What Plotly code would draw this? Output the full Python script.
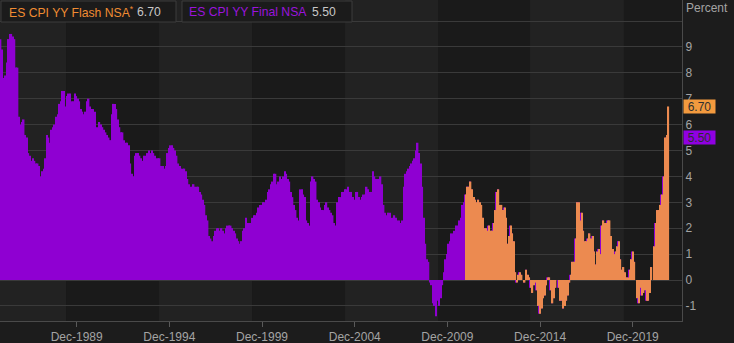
import pandas as pd
import plotly.graph_objects as go

# ---------------- data ----------------
# ES CPI YY Final NSA, monthly, Nov-1985 .. Dec-2010
final_1985_2010 = [
    9.3, 9.3, 8.9, 7.8, 7.9, 8.4, 9.3, 9.5, 9.5, 9.4,
    9.3, 8.2, 8.2, 6.3, 6.0, 6.1, 6.2, 5.6, 5.5, 4.9,
    4.8, 4.6, 4.7, 4.6, 4.5, 4.5, 4.4, 4.0, 4.2, 4.3,
    4.7, 5.6, 5.5, 5.3, 5.8, 5.9, 6.0, 6.3, 6.4, 6.8,
    6.9, 7.3, 7.3, 6.7, 7.1, 7.2, 7.2, 6.9, 6.9, 7.2,
    7.1, 7.0, 6.9, 6.6, 6.5, 6.4, 6.5, 6.9, 7.0, 6.7,
    6.6, 6.6, 6.5, 5.9, 5.9, 6.1, 6.0, 5.9, 5.8, 5.7,
    5.6, 5.5, 5.4, 6.4, 6.8, 6.8, 6.6, 6.2, 5.9, 5.7,
    5.7, 5.4, 5.3, 5.3, 5.2, 4.5, 4.1, 4.0, 4.8, 4.9,
    4.9, 4.8, 4.7, 4.6, 4.8, 4.8, 4.9, 5.0, 4.9, 5.0,
    4.9, 4.8, 4.7, 4.7, 4.7, 4.4, 4.4, 4.3, 4.4, 4.9,
    5.1, 5.2, 5.2, 5.1, 5.0, 4.8, 4.5, 4.4, 4.3, 4.3,
    4.3, 4.2, 3.9, 3.7, 3.6, 3.6, 3.7, 3.6, 3.6, 3.6,
    3.4, 3.3, 3.1, 2.9, 2.5, 2.3, 1.7, 1.6, 1.5, 1.7,
    1.9, 2.0, 2.0, 1.9, 2.0, 1.9, 1.8, 2.0, 2.1, 2.1,
    2.1, 2.0, 1.9, 1.8, 1.6, 1.5, 1.4, 1.5, 1.9, 2.0,
    2.4, 2.2, 2.2, 2.2, 2.4, 2.5, 2.5, 2.6, 2.8, 2.9,
    2.9, 3.0, 3.0, 3.1, 3.4, 3.5, 3.7, 3.8, 4.1, 4.1,
    3.7, 3.8, 4.0, 3.9, 4.0, 4.2, 4.1, 3.9, 3.8, 3.4,
    3.2, 2.9, 2.7, 2.4, 2.3, 3.5, 3.5, 3.3, 3.2, 2.3,
    2.2, 2.1, 3.8, 4.0, 3.9, 3.8, 3.1, 3.0, 2.8, 2.7,
    2.7, 2.9, 3.0, 2.8, 2.7, 2.6, 2.5, 2.2, 2.1, 3.0,
    3.2, 3.2, 3.4, 3.4, 3.5, 3.5, 3.6, 3.4, 3.4, 3.2,
    3.1, 3.4, 3.4, 3.2, 3.1, 3.2, 3.3, 3.3, 3.6, 3.5,
    3.4, 3.4, 4.2, 4.0, 3.9, 3.9, 3.9, 4.0, 3.7, 2.9,
    2.6, 2.5, 2.6, 2.6, 2.4, 2.4, 2.5, 2.4, 2.3, 2.3,
    2.2, 2.3, 3.6, 4.1, 4.2, 4.3, 4.4, 4.5, 4.6, 4.7,
    5.0, 5.3, 4.9, 4.5, 3.6, 2.4, 1.4, 0.8, 0.7, -0.1,
    -0.2, -0.9, -1.0, -1.4, -0.8, -1.0, -0.7, -0.2, 0.3, 0.8,
    1.0, 1.4, 1.5, 1.8, 1.8, 1.9, 2.1, 2.1, 2.3, 2.4,
    2.9, 3.0,
]
# ES CPI YY Final NSA, Jan-2011 .. Nov-2021
final_2011_2021 = [
    3.3, 3.6, 3.6, 3.8, 3.5, 3.2, 3.1, 3.0, 3.1, 3.0, 2.9, 2.4,
    2.0, 2.0, 1.9, 2.1, 1.9, 1.9, 2.2, 2.7, 3.4, 3.5, 2.9, 2.9,
    2.7, 2.8, 2.4, 1.4, 1.7, 2.1, 1.8, 1.5, 0.3, -0.1, 0.2, 0.3,
    0.2, 0.0, -0.1, 0.4, 0.2, 0.1, -0.3, -0.5, -0.2, -0.1, -0.4, -1.0,
    -1.3, -1.1, -0.7, -0.6, -0.2, 0.1, 0.1, -0.4, -0.9, -0.7, -0.3, 0.0,
    -0.3, -0.8, -0.8, -1.1, -1.0, -0.8, -0.6, -0.1, 0.2, 0.7, 0.7, 1.6,
    3.0, 3.0, 2.3, 2.6, 1.9, 1.5, 1.5, 1.6, 1.8, 1.6, 1.7, 1.1,
    0.6, 1.1, 1.2, 1.0, 2.1, 2.3, 2.2, 2.2, 2.3, 2.3, 1.7, 1.2,
    1.0, 1.1, 1.3, 1.5, 0.8, 0.4, 0.5, 0.3, 0.1, 0.1, 0.4, 0.8,
    1.1, 0.7, 0.0, -0.7, -0.9, -0.3, -0.6, -0.5, -0.4, -0.8, -0.8, -0.5,
    0.5, 0.0, 1.3, 2.2, 2.7, 2.7, 2.9, 3.3, 4.0, 5.4, 5.5,
]
# ES CPI YY Flash NSA*, Jan-2011 .. Dec-2021
flash_2011_2021 = [
    3.3, 3.6, 3.6, 3.8, 3.5, 3.2, 3.1, 3.0, 3.1, 3.0, 2.9, 2.4,
    2.0, 2.0, 1.9, 2.1, 1.9, 1.9, 2.2, 2.7, 3.4, 3.5, 2.9, 2.9,
    2.7, 2.8, 2.4, 1.4, 1.7, 2.1, 1.8, 1.5, 0.3, -0.1, 0.2, 0.3,
    0.2, 0.0, -0.1, 0.4, 0.2, 0.1, -0.3, -0.5, -0.2, -0.1, -0.4, -1.0,
    -1.3, -1.1, -0.7, -0.6, -0.2, 0.1, 0.1, -0.4, -0.9, -0.7, -0.3, 0.0,
    -0.3, -0.8, -0.8, -1.1, -1.0, -0.8, -0.6, -0.1, 0.2, 0.7, 0.7, 1.6,
    3.0, 3.0, 2.3, 2.6, 1.9, 1.5, 1.5, 1.6, 1.8, 1.6, 1.7, 1.1,
    0.6, 1.1, 1.2, 1.0, 2.1, 2.3, 2.2, 2.2, 2.3, 2.3, 1.7, 1.2,
    1.0, 1.1, 1.3, 1.5, 0.8, 0.4, 0.5, 0.3, 0.1, 0.1, 0.4, 0.8,
    1.1, 0.7, 0.0, -0.7, -0.9, -0.3, -0.6, -0.5, -0.4, -0.8, -0.8, -0.5,
    0.5, 0.0, 1.3, 2.2, 2.7, 2.7, 2.9, 3.3, 4.0, 5.5, 5.6, 6.7,
]
final_start = "1985-11-01"
flash_start = "2011-01-01"
flash_name = "ES CPI YY Flash NSA"
final_name = "ES CPI YY Final NSA"
flash_last = "6.70"
final_last = "5.50"
tick_dates = ["1990-01-01", "1995-01-01", "2000-01-01", "2005-01-01",
              "2010-01-01", "2015-01-01", "2020-01-01"]
tick_labels = ["Dec-1989", "Dec-1994", "Dec-1999", "Dec-2004",
               "Dec-2009", "Dec-2014", "Dec-2019"]
y_ticks = list(range(-1, 11))
y_labels = [str(v) for v in range(-1, 10)] + [" "]

# ---------------- figure ----------------
final_vals = final_1985_2010 + final_2011_2021
final_dates = pd.date_range(final_start, periods=len(final_vals), freq="MS")
flash_dates = pd.date_range(flash_start, periods=len(flash_2011_2021), freq="MS")

MONTH = 30.44 * 24 * 3600 * 1000.0
PURPLE = "#8f00d2"
ORANGE = "#ec8a50"
TXT = "#a4a4a4"
FONT = "Liberation Sans, Arial, sans-serif"

W, H = 734, 343
ML, MR, MT, MB = 0, 52, 0, 22
PW, PH = W - ML - MR, H - MT - MB


def px(x):
    return x / PW


def py(y):
    return 1 - y / PH


fig = go.Figure()
fig.add_trace(go.Bar(x=final_dates, y=final_vals, name=final_name,
                     marker=dict(color=PURPLE, line=dict(width=0)),
                     width=0.95 * MONTH, offset=-0.7 * MONTH))
fig.add_trace(go.Bar(x=flash_dates, y=flash_2011_2021, name=flash_name,
                     marker=dict(color=ORANGE, line=dict(width=0)),
                     width=0.9 * MONTH, offset=-0.35 * MONTH))

shapes = []
for a, b in [("1985-11-01", "1989-06-05"), ("1994-06-12", "1999-06-18"),
             ("2004-06-24", "2009-06-30"), ("2014-06-18", "2019-07-10")]:
    shapes.append(dict(type="rect", xref="x", yref="paper", x0=a, x1=b,
                       y0=0, y1=1, fillcolor="#222222", line=dict(width=0),
                       layer="below"))
# legend boxes
for x0, x1 in [(1, 176), (182, 352)]:
    shapes.append(dict(type="rect", xref="paper", yref="paper",
                       x0=px(x0), x1=px(x1), y0=py(22), y1=py(1),
                       fillcolor="#1b1b1b", line=dict(color="#3c3c3c", width=1),
                       layer="above"))

ann = [
    dict(text=flash_name + "<sup>*</sup>", x=px(6.5), y=py(12), xanchor="left",
         font=dict(color="#f08c32", size=12.2)),
    dict(text=flash_last, x=px(134.5), y=py(12), xanchor="left",
         font=dict(color="#c8c8c8", size=12.2)),
    dict(text=final_name, x=px(187.5), y=py(12), xanchor="left",
         font=dict(color="#9a14dc", size=12.2)),
    dict(text=final_last, x=px(309.5), y=py(12), xanchor="left",
         font=dict(color="#c8c8c8", size=12.2)),
    dict(text="Percent", x=px(684), y=py(8), xanchor="left",
         font=dict(color=TXT, size=12)),
]
for a in ann:
    a.update(xref="paper", yref="paper", showarrow=False, yanchor="middle",
             font=dict(family=FONT, **a["font"]))

ann.append(dict(text=flash_last, xref="paper", yref="y", x=px(683),
                y=float(flash_last), xanchor="left", yanchor="middle",
                showarrow=False, bgcolor="#f39a3e", width=31, height=13,
                borderpad=0, font=dict(family=FONT, size=12, color="#303030")))
ann.append(dict(text=final_last, xref="paper", yref="y", x=px(683),
                y=float(final_last), xanchor="left", yanchor="middle",
                showarrow=False, bgcolor="#9000e2", width=31, height=13,
                borderpad=0, font=dict(family=FONT, size=12, color="#2e2e2e")))

fig.update_layout(
    width=W, height=H, margin=dict(l=ML, r=MR, t=MT, b=MB),
    paper_bgcolor="#1c1c1c", plot_bgcolor="#1a1a1a",
    barmode="overlay", showlegend=False,
    font=dict(family=FONT, size=12, color=TXT),
    shapes=shapes, annotations=ann,
    xaxis=dict(type="date", range=["1985-11-12", "2022-08-29"],
               tickvals=tick_dates, ticktext=tick_labels,
               ticks="outside", ticklen=5, tickcolor="#5a5a5a",
               showgrid=False, zeroline=False, showline=True,
               linecolor="#4a4a4a", linewidth=1,
               tickfont=dict(size=12, color=TXT)),
    yaxis=dict(side="right", range=[-1.583, 10.811],
               tickvals=y_ticks, ticktext=y_labels,
               showgrid=True, gridcolor="#3a3a3a", gridwidth=1,
               zeroline=False, showline=True, linecolor="#4a4a4a",
               ticks="", tickfont=dict(size=12, color=TXT)),
)

fig.write_html("out.html")
